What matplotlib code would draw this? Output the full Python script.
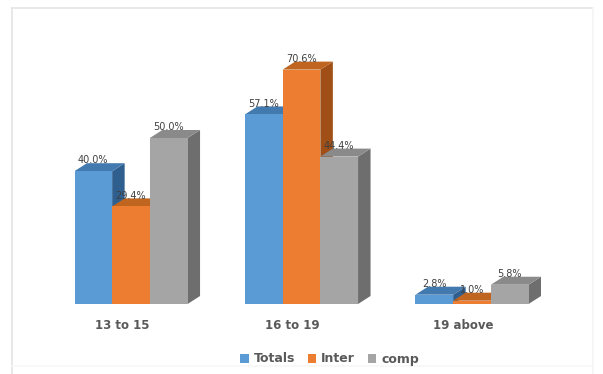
import matplotlib
matplotlib.use("Agg")
import matplotlib.pyplot as plt
from matplotlib.lines import Line2D

categories = ["13 to 15", "16 to 19", "19 above"]
seriesNames = ["Totals", "Inter", "comp"]
totals = [40.0, 57.1, 2.8]
inter = [29.4, 70.6, 1.0]
comp = [50.0, 44.4, 5.8]

frontColors = ["#5B9BD5", "#ED7D31", "#A5A5A5"]
topColors = ["#4279AE", "#C0651F", "#8A8A8A"]
sideColors = ["#2F5F8F", "#A04F17", "#6E6E6E"]

W, H = 603, 374
fig = plt.figure(figsize=(W / 100, H / 100), dpi=100, facecolor="white")

# axes box in pixels, y = 304 is the floor of the bars
left, right, bottom, top = 75, 541, 304, 40
ax = fig.add_axes([left / W, 1 - bottom / H, (right - left) / W, (bottom - top) / H])

pxPerCat = 170.5
pxPerPct = 3.32
barW = 37.7 / pxPerCat
depthX = 12.5 / pxPerCat
depthY = 8 / pxPerPct

firstCat = 131
ax.set_xlim((left - firstCat) / pxPerCat, (right - firstCat) / pxPerCat)
ax.set_ylim(0, (bottom - top) / pxPerPct)
ax.patch.set_alpha(0)
for s in ax.spines.values():
    s.set_visible(False)
ax.set_yticks([])
# the group labels sit a little left of the group centres
ax.set_xticks([i - 9 / pxPerCat for i in range(len(categories))])
ax.set_xticklabels(categories, fontsize=8.5, fontweight="bold", color="#595959")
ax.tick_params(axis="x", length=0, pad=19 - 8)

allSeries = [totals, inter, comp]

# draw back to front so the nearer bar covers the side of the one before it
for i in range(len(categories)):
    for j, values in enumerate(allSeries):
        v = values[i]
        x0 = i + (j - 1.5) * barW
        x1 = x0 + barW
        ax.fill([x1, x1 + depthX, x1 + depthX, x1], [0, depthY, v + depthY, v],
                color=sideColors[j], lw=0, zorder=2 + j)
        ax.fill([x0, x0 + depthX, x1 + depthX, x1], [v, v + depthY, v + depthY, v],
                color=topColors[j], lw=0, zorder=2 + j)
        ax.bar(x0, v, barW, align="edge", color=frontColors[j], lw=0,
               zorder=2 + j, label=seriesNames[j] if i == 0 else None)
        ax.text(x0 + barW / 2, v + depthY * 0.72, f"{v:.1f}%", fontsize=7,
                color="#404040", ha="center", va="bottom", zorder=10)

fig.legend(loc="center", bbox_to_anchor=(329.5 / W, 1 - 359 / H), ncol=3, frameon=False,
           handlelength=0.7, handleheight=0.7, handletextpad=0.4,
           columnspacing=1.0, labelcolor="#595959",
           prop={"size": 9, "weight": "bold"})

# outer frame of the chart area, top and left edges are the stronger ones
for xs, ys, col in [([12, 593], [8, 8], "#E4E4E4"),
                    ([12, 12], [8, 374], "#E4E4E4"),
                    ([593, 593], [8, 374], "#F5F5F5"),
                    ([12, 593], [366, 366], "#F7F7F7")]:
    fig.add_artist(Line2D([x / W for x in xs], [1 - y / H for y in ys],
                          transform=fig.transFigure, color=col, lw=1.2))

fig.savefig("out.png", dpi=100)
